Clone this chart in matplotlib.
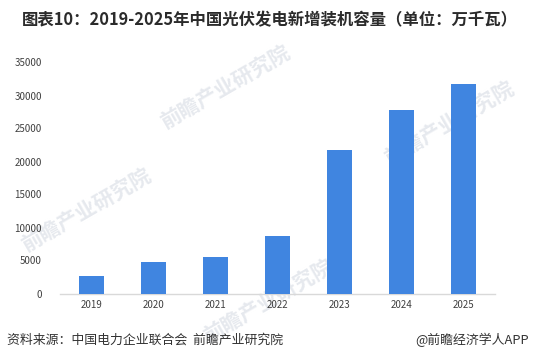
import matplotlib
matplotlib.use("Agg")
import matplotlib.pyplot as plt

plt.rcParams['font.family'] = ['Noto Sans CJK SC', 'DejaVu Sans']

years = ["2019", "2020", "2021", "2022", "2023", "2024", "2025"]
values = [2652, 4820, 5488, 8741, 21688, 27760, 31800]
yticks = [0, 5000, 10000, 15000, 20000, 25000, 30000, 35000]

title = "图表10：2019-2025年中国光伏发电新增装机容量（单位：万千瓦）"
source = "资料来源：中国电力企业联合会  前瞻产业研究院"
credit = "@前瞻经济学人APP"

fig = plt.figure(figsize=(5.35, 3.62), dpi=100)

# faint watermarks (behind the chart)
for (wx, wy) in [(0.42, 0.76), (0.50, 0.17), (0.84, 0.66), (0.16, 0.42)]:
    fig.text(wx, wy, "前瞻产业研究院", fontsize=15, color="#E6E9EE",
             rotation=30, ha="center", va="center", fontweight="bold", zorder=0)

ax = fig.add_axes([60/535, 1-293.5/362, 435/535, 231/362], zorder=1)
ax.patch.set_alpha(0)

x = list(range(len(years)))
ax.bar(x, values, width=0.4, color="#4085E0", zorder=3)
ax.set_xlim(-0.5, len(years) - 0.5)
ax.set_ylim(0, 35000)
ax.set_yticks(yticks)
ax.set_yticklabels([str(v) for v in yticks])
ax.set_xticks(x)
ax.set_xticklabels(years)
ax.tick_params(axis='both', length=0, labelsize=7, colors="#404040")
ax.tick_params(axis='y', pad=13)
ax.tick_params(axis='x', pad=5)
for s in ["top", "right", "left"]:
    ax.spines[s].set_visible(False)
ax.spines["bottom"].set_color("#D9D9D9")
ax.spines["bottom"].set_linewidth(1)

fig.text(22/535, 1-20/362, title, fontsize=11.8, fontweight="bold", color="#2B2B2B",
         ha="left", va="center")
fig.text(7/535, 1-340/362, source, fontsize=9.3, color="#333333", ha="left", va="center")
fig.text(529/535, 1-340/362, credit, fontsize=9.3, color="#333333", ha="right", va="center")

fig.savefig("out.png", dpi=100)
